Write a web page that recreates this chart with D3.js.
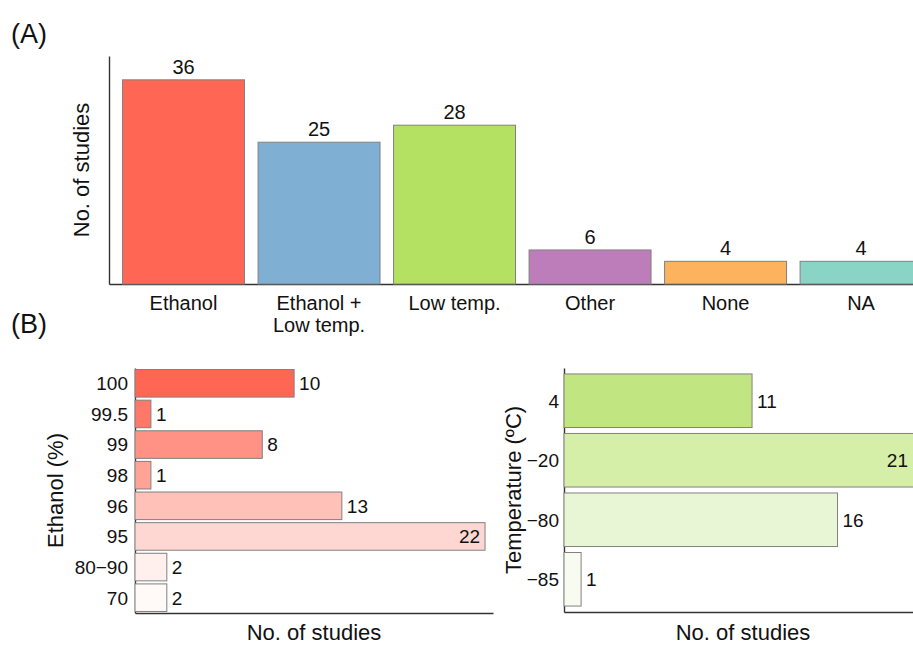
<!DOCTYPE html>
<html>
<head>
<meta charset="utf-8">
<script src="https://cdn.jsdelivr.net/npm/d3@7"></script>
<style>
  html, body { margin: 0; padding: 0; background: #fff; }
  svg { display: block; }
  text { font-family: "Liberation Sans", Arial, Helvetica, sans-serif; fill: #111; }
</style>
</head>
<body>
<svg id="chart" width="913" height="645"></svg>
<script>
// (A) preservation method used across studies
const treatCats = ["Ethanol", "Ethanol + Low temp.", "Low temp.", "Other", "None", "NA"];
const treatLabelLines = [["Ethanol"], ["Ethanol +", "Low temp."], ["Low temp."], ["Other"], ["None"], ["NA"]];
const treatCounts = [36, 25, 28, 6, 4, 4];
const treatColors = ["#FF6654", "#7FB0D4", "#B4E162", "#BD7DBB", "#FDB35E", "#8AD4C6"];

// (B, left) ethanol concentration
const ethanolCats = ["100", "99.5", "99", "98", "96", "95", "80\u221290", "70"];
const ethanolCounts = [10, 1, 8, 1, 13, 22, 2, 2];
const ethanolColors = ["#FF6654", "#FF7868", "#FF9284", "#FFA396", "#FFC1B8", "#FFD7D2", "#FFF0ED", "#FFF9F7"];

// (B, right) storage temperature
const tempCats = ["4", "\u221220", "\u221280", "\u221285"];
const tempCounts = [11, 21, 16, 1];
const tempColors = ["#C1E580", "#D5EEA8", "#E9F6D5", "#F8FBF0"];

const W = 913;
const svg = d3.select("#chart");
const axisColor = "#333";
const barStroke = "#808080";

function styleAxis(g) {
  g.select(".domain").attr("stroke", axisColor).attr("stroke-width", 1.4);
  g.selectAll(".tick").remove();
}

// ---------- Panel A ----------
const xA = d3.scaleBand().domain(treatCats).range([109, 935.6]).paddingInner(0.1).paddingOuter(0.1);
const yA = d3.scaleLinear().domain([0, 40.2]).range([284, 56]);

svg.append("g").attr("transform", "translate(0,284)")
  .call(d3.axisBottom(xA).tickSizeOuter(0)).call(styleAxis);
svg.append("g").attr("transform", "translate(109,0)")
  .call(d3.axisLeft(yA).tickValues([]).tickSizeOuter(0)).call(styleAxis);

svg.append("g").selectAll("rect").data(treatCats).join("rect")
  .attr("x", d => xA(d))
  .attr("y", (d, i) => yA(treatCounts[i]))
  .attr("width", xA.bandwidth())
  .attr("height", (d, i) => yA(0) - yA(treatCounts[i]))
  .attr("fill", (d, i) => treatColors[i])
  .attr("stroke", barStroke).attr("stroke-width", 1);

svg.append("g").selectAll("text").data(treatCats).join("text")
  .attr("x", d => xA(d) + xA.bandwidth() / 2)
  .attr("y", (d, i) => yA(treatCounts[i]) - 6)
  .attr("text-anchor", "middle").attr("font-size", 20)
  .text((d, i) => treatCounts[i]);

const tickA = svg.append("g").selectAll("text").data(treatCats).join("text")
  .attr("x", d => xA(d) + xA.bandwidth() / 2)
  .attr("y", 310)
  .attr("text-anchor", "middle").attr("font-size", 20);
tickA.each(function (d, i) {
  d3.select(this).selectAll("tspan").data(treatLabelLines[i]).join("tspan")
    .attr("x", xA(d) + xA.bandwidth() / 2)
    .attr("dy", (t, j) => j === 0 ? 0 : 22)
    .text(t => t);
});

svg.append("text")
  .attr("transform", "translate(89,170) rotate(-90)")
  .attr("text-anchor", "middle").attr("font-size", 22)
  .text("No. of studies");

// ---------- Panel B, shared drawing ----------
function hbarPanel(opts) {
  const { cats, counts, colors, x0, x1, xmax, y0, y1, padOuter, tickX, title, titleX, titleBaseX } = opts;
  const y = d3.scaleBand().domain(cats).range([y0, y1]).paddingInner(0.1).paddingOuter(padOuter);
  const x = d3.scaleLinear().domain([0, xmax]).range([x0, x1]);
  const g = svg.append("g");

  g.append("g").attr("transform", `translate(${x0},0)`)
    .call(d3.axisLeft(y).tickSizeOuter(0)).call(styleAxis);
  g.append("g").attr("transform", `translate(0,${y1})`)
    .call(d3.axisBottom(x).tickValues([]).tickSizeOuter(0)).call(styleAxis);

  g.append("g").selectAll("rect").data(cats).join("rect")
    .attr("x", x(0))
    .attr("y", d => y(d))
    .attr("width", (d, i) => x(counts[i]) - x(0))
    .attr("height", y.bandwidth())
    .attr("fill", (d, i) => colors[i])
    .attr("stroke", barStroke).attr("stroke-width", 1);

  // the longest bar carries its count inside its end, the others just past it
  const maxV = d3.max(counts);
  g.append("g").selectAll("text").data(cats).join("text")
    .attr("x", (d, i) => counts[i] === maxV ? Math.min(x(counts[i]), W) - 5 : x(counts[i]) + 5)
    .attr("y", d => y(d) + y.bandwidth() / 2)
    .attr("dy", "0.36em")
    .attr("text-anchor", (d, i) => counts[i] === maxV ? "end" : "start")
    .attr("font-size", 19)
    .text((d, i) => counts[i]);

  g.append("g").selectAll("text").data(cats).join("text")
    .attr("x", tickX)
    .attr("y", d => y(d) + y.bandwidth() / 2)
    .attr("dy", "0.36em")
    .attr("text-anchor", "end").attr("font-size", 19)
    .text(d => d);

  g.append("text")
    .attr("transform", `translate(${titleBaseX},${(y0 + y1) / 2}) rotate(-90)`)
    .attr("text-anchor", "middle").attr("font-size", 22)
    .text(title);

  g.append("text")
    .attr("x", titleX).attr("y", 640)
    .attr("text-anchor", "middle").attr("font-size", 22)
    .text("No. of studies");
}

hbarPanel({
  cats: ethanolCats, counts: ethanolCounts, colors: ethanolColors,
  x0: 135, x1: 493, xmax: 22.5, y0: 368, y1: 613, padOuter: 0.05,
  tickX: 128, title: "Ethanol (%)", titleBaseX: 63, titleX: 314
});

hbarPanel({
  cats: tempCats, counts: tempCounts, colors: tempColors,
  x0: 564, x1: 923, xmax: 21, y0: 368, y1: 612, padOuter: 0.1,
  tickX: 559, title: "Temperature (\u00BAC)", titleBaseX: 521, titleX: 743
});

// Panel letters
svg.append("text").attr("x", 11).attr("y", 43)
  .attr("font-family", "DejaVu Sans").attr("font-size", 27).text("(A)");
svg.append("text").attr("x", 11).attr("y", 333)
  .attr("font-family", "DejaVu Sans").attr("font-size", 27).text("(B)");
</script>
</body>
</html>
